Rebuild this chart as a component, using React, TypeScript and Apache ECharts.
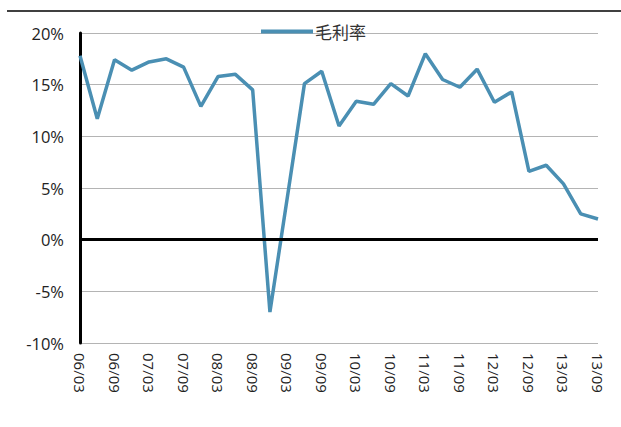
import React, { useEffect, useRef } from "react";
import * as echarts from "echarts";

const categories = [
  "06/03", "06/06", "06/09", "06/12",
  "07/03", "07/06", "07/09", "07/12",
  "08/03", "08/06", "08/09", "08/12",
  "09/03", "09/06", "09/09", "09/12",
  "10/03", "10/06", "10/09", "10/12",
  "11/03", "11/06", "11/09", "11/12",
  "12/03", "12/06", "12/09", "12/12",
  "13/03", "13/06", "13/09",
];

const grossMargin = [
  17.8, 11.7, 17.4, 16.4,
  17.2, 17.5, 16.7, 12.9,
  15.8, 16.0, 14.5, -7.0,
  4.0, 15.1, 16.3, 11.0,
  13.4, 13.1, 15.1, 13.9,
  18.0, 15.5, 14.75, 16.5,
  13.3, 14.3, 6.6, 7.2,
  5.4, 2.5, 2.0,
];

const seriesName = "毛利率";

export default function App() {
  const ref = useRef<HTMLDivElement>(null);
  useEffect(() => {
    if (!ref.current) return;
    const chart = echarts.init(ref.current, undefined, { renderer: "svg" });
    chart.setOption({
      animation: false,
      textStyle: { fontFamily: "'Open Sans', 'Noto Sans CJK SC', sans-serif" },
      graphic: [
        {
          type: "line",
          shape: { x1: 7, y1: 11, x2: 621, y2: 11 },
          style: { stroke: "#000", lineWidth: 1.5 },
        },
      ],
      legend: {
        left: 256,
        top: 18,
        itemWidth: 52,
        itemHeight: 4,
        itemGap: 4,
        icon: "rect",
        textStyle: {
          fontFamily: "'Noto Sans CJK SC', sans-serif",
          fontSize: 17,
          color: "#333",
          padding: [0, 0, 0, -3],
        },
        data: [seriesName],
      },
      grid: { left: 80, right: 23, top: 33, bottom: 84, containLabel: false },
      xAxis: {
        type: "category",
        data: categories,
        boundaryGap: false,
        axisLine: { show: false, onZero: false },
        axisTick: { show: false },
        axisLabel: {
          interval: 1,
          rotate: -90,
          margin: 10,
          fontSize: 15,
          color: "#222",
          fontFamily: "'Open Sans', sans-serif",
        },
        splitLine: { show: false },
      },
      yAxis: {
        type: "value",
        min: -10,
        max: 20,
        interval: 5,
        axisLine: { show: true, lineStyle: { color: "#000", width: 3 } },
        axisTick: { show: false },
        axisLabel: {
          formatter: "{value}%",
          fontSize: 16.5,
          color: "#222",
          margin: 16,
          fontFamily: "'Open Sans', sans-serif",
        },
        splitLine: { show: true, lineStyle: { color: "#b4b4b4", width: 1 } },
      },
      series: [
        {
          name: seriesName,
          type: "line",
          data: grossMargin,
          symbol: "none",
          lineStyle: { color: "#4a8fb3", width: 3.5 },
          itemStyle: { color: "#4a8fb3" },
          markLine: {
            silent: true,
            symbol: "none",
            label: { show: false },
            lineStyle: { color: "#000", width: 3, type: "solid" },
            data: [{ yAxis: 0 }],
          },
        },
      ],
    });
    return () => chart.dispose();
  }, []);
  return <div ref={ref} style={{ width: 621, height: 427, position: "absolute", left: 0, top: 0 }} />;
}
